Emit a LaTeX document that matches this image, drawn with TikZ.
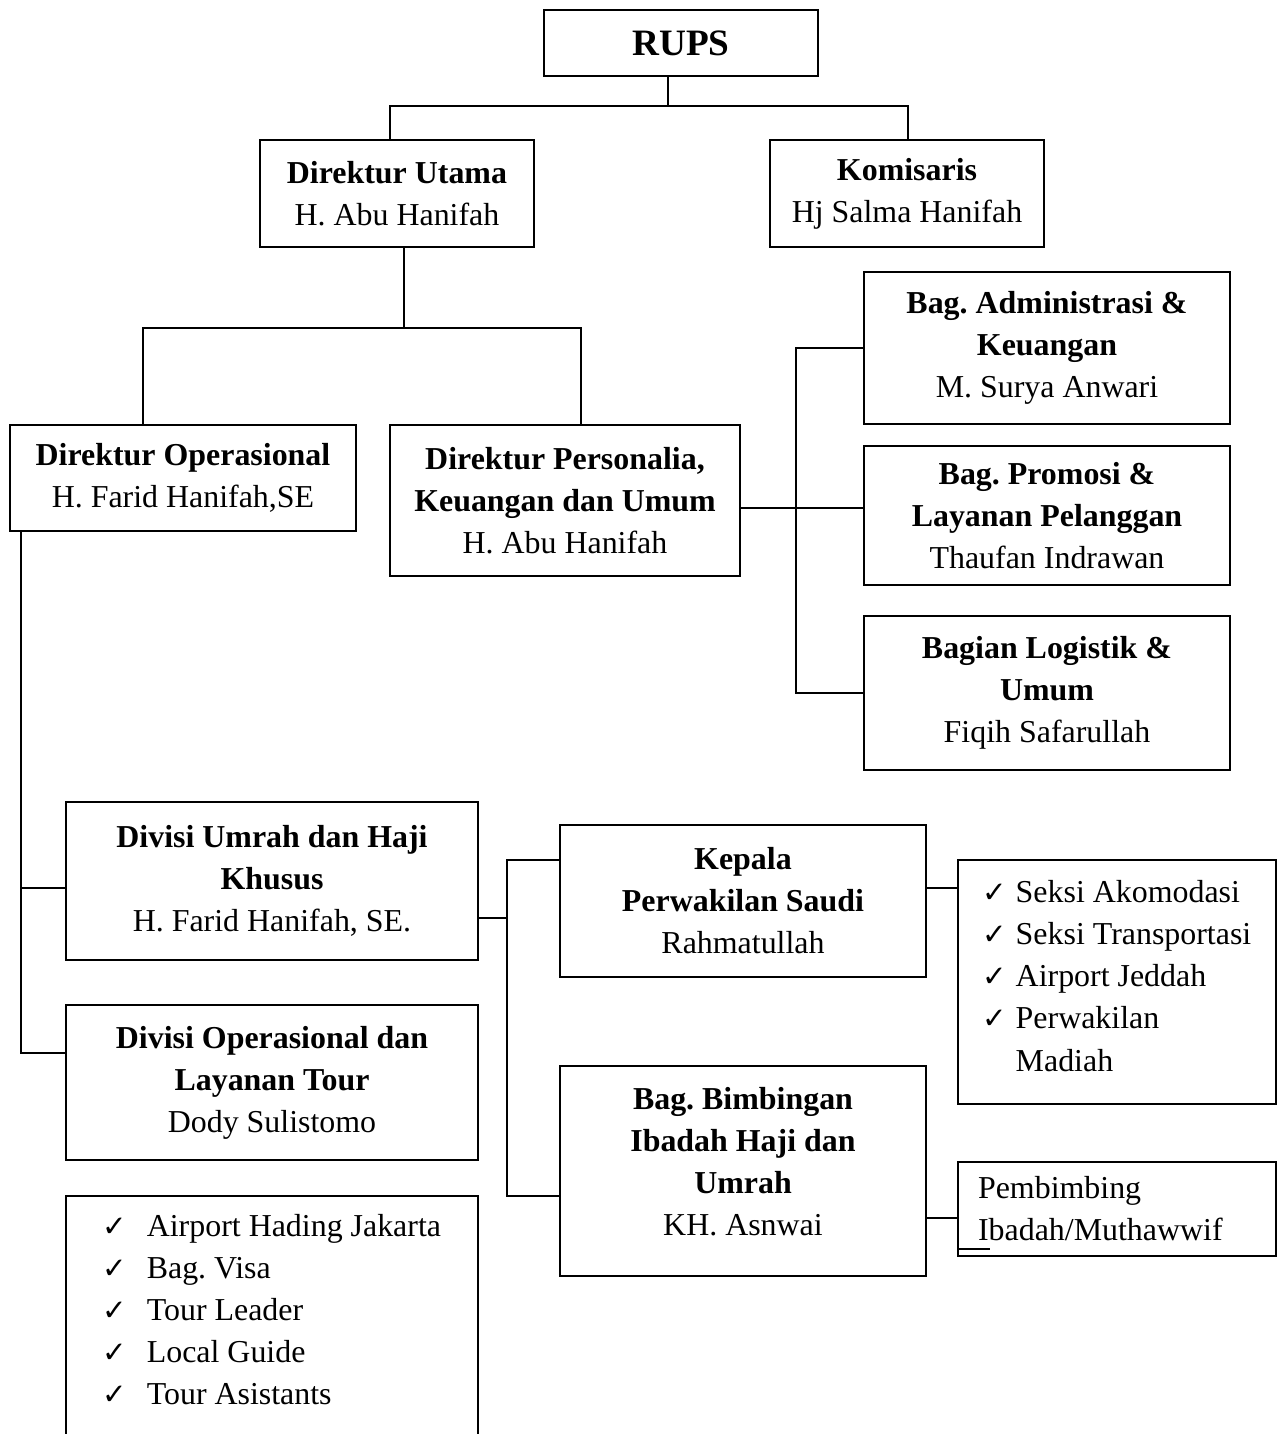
\documentclass[tikz,border=0pt]{standalone}
\usepackage{fontspec}
\setmainfont{Liberation Serif}
\newfontfamily\symfont{DejaVu Sans}
\usepackage{tikz}
\newcommand{\cek}{{\symfont\fontsize{11}{13}\selectfont ✓}}
\frenchspacing

\begin{document}
\begin{tikzpicture}[
        x=0.376pt, y=-0.376pt,
        line width=0.7pt,
        every node/.style={draw, rectangle, inner sep=2pt, outer sep=0pt, align=center, line width=0.7pt, font=\fontsize{12}{15.8}\selectfont},
        boxsize/.style 2 args={minimum width=#1*0.376pt, minimum height=#2*0.376pt},
    ]
        \useasboundingbox (0,0) rectangle (1280,1434);
        \node[boxsize={274}{66}, font=\fontsize{14}{17}\selectfont\bfseries] (rups) at (681,43) {RUPS};
        \node[boxsize={274}{107}] (dirut) at (397,193.5) {\textbf{Direktur Utama}\\H. Abu Hanifah};
        \node[boxsize={274}{107}] (komis) at (907,193.5) {\textbf{Komisaris}\\Hj Salma Hanifah};
        \node[boxsize={346}{106}] (dirops) at (183,478) {\textbf{Direktur Operasional}\\H. Farid Hanifah,SE};
        \node[boxsize={350}{151}] (dirpers) at (565,500.5) {\textbf{Direktur Personalia,}\\\textbf{Keuangan dan Umum}\\H. Abu Hanifah};
        \node[boxsize={366}{152}] (badm) at (1047,348) {\textbf{Bag. Administrasi \&}\\\textbf{Keuangan}\\M. Surya Anwari};
        \node[boxsize={366}{139}] (bprom) at (1047,515.5) {\textbf{Bag. Promosi \&}\\\textbf{Layanan Pelanggan}\\Thaufan Indrawan};
        \node[boxsize={366}{154}] (blog) at (1047,693) {\textbf{Bagian Logistik \&}\\\textbf{Umum}\\Fiqih Safarullah};
        \node[boxsize={412}{158}] (dumrah) at (272,881) {\textbf{Divisi Umrah dan Haji}\\\textbf{Khusus}\\H. Farid Hanifah, SE.};
        \node[boxsize={412}{155}] (dops) at (272,1082.5) {\textbf{Divisi Operasional dan}\\\textbf{Layanan Tour}\\Dody Sulistomo};
        \node[boxsize={366}{152}] (kepala) at (743,901) {\textbf{Kepala}\\\textbf{Perwakilan Saudi}\\Rahmatullah};
        \node[boxsize={366}{210}] (bimb) at (743,1171) {\textbf{Bag. Bimbingan}\\\textbf{Ibadah Haji dan}\\\textbf{Umrah}\\KH. Asnwai\rule[-7.5pt]{0pt}{7.5pt}};
        \node[boxsize={318}{244}, align=left] (seksi) at (1117,982) {\makebox[12.4pt][l]{\cek}Seksi Akomodasi\\\makebox[12.4pt][l]{\cek}Seksi Transportasi\\\makebox[12.4pt][l]{\cek}Airport Jeddah\\\makebox[12.4pt][l]{\cek}Perwakilan\\\hspace*{12.4pt}Madiah\rule[-4.6pt]{0pt}{4.6pt}};
        \node[boxsize={318}{94}, align=left, inner xsep=7.5pt, text width=104.5pt] (pemb) at (1117,1209) {Pembimbing\\Ibadah/Muthawwif};
        \node[draw=none, boxsize={412}{10}, inner ysep=7pt, anchor=north, align=left] (tour) at (272,1196) {\makebox[16.5pt][l]{\cek}Airport Hading Jakarta\\\makebox[16.5pt][l]{\cek}Bag. Visa\\\makebox[16.5pt][l]{\cek}Tour Leader\\\makebox[16.5pt][l]{\cek}Local Guide\\\makebox[16.5pt][l]{\cek}Tour Asistants};
        % junction points
        \coordinate (t0) at (668,106);
        \coordinate (t0l) at (390,106);
        \coordinate (t0r) at (908,106);
        \coordinate (t1) at (404,328);
        \coordinate (t1l) at (143,328);
        \coordinate (t1r) at (581,328);
        \coordinate (t2) at (796,508);
        \coordinate (t3) at (21,888);
        \coordinate (t4) at (21,1053);
        \coordinate (t5) at (507,918);
        \coordinate (t6) at (507,860);
        \coordinate (t7) at (507,1196);
        \coordinate (t8) at (940,888);
        \coordinate (t9) at (940,1218);
        \coordinate (bawah) at (0,1440);
        \draw (rups.south -| t0) -- (t0);
        \draw (dirut.north -| t0l) -- (t0l) -- (t0r) -- (komis.north -| t0r);
        \draw (dirut.south -| t1) -- (t1);
        \draw (dirops.north -| t1l) -- (t1l) -- (t1r) -- (dirpers.north -| t1r);
        \draw (dirpers.east |- t2) -- (bprom.west |- t2);
        \draw (badm.west) -| (t2) |- (blog.west);
        \draw (dirops.south -| t4) -- (t4) -- (dops.west |- t4);
        \draw (t3) -- (dumrah.west |- t3);
        \draw (dumrah.east |- t5) -- (t5);
        \draw (kepala.west |- t6) -- (t6) -- (t7) -- (bimb.west |- t7);
        \draw (kepala.east |- t8) -- (seksi.west |- t8);
        \draw (bimb.east |- t9) -- (pemb.west |- t9);
        \draw ([yshift=2.6pt]pemb.south west) -- ++(32,0);
        \draw (tour.north west |- bawah) -- (tour.north west) -- (tour.north east) -- (tour.north east |- bawah);
    \end{tikzpicture}
\end{document}
